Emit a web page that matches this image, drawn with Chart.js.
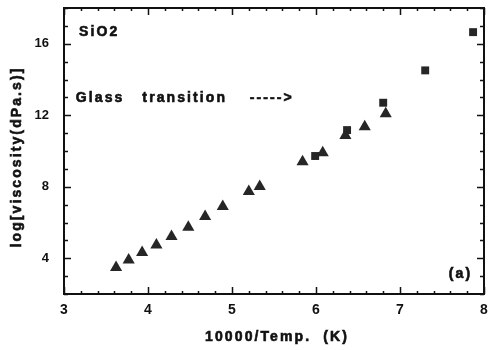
<!DOCTYPE html>
<html>
<head>
<meta charset="utf-8">
<script src="https://cdn.jsdelivr.net/npm/chart.js@4/dist/chart.umd.min.js"></script>
<style>
  html, body { margin: 0; padding: 0; background: #fff; }
</style>
</head>
<body>
<canvas id="myChart" width="491" height="350"></canvas>
<script>
// data
const triangleX = [3.62, 3.77, 3.93, 4.10, 4.28, 4.48, 4.68, 4.89, 5.20, 5.33, 5.84, 6.08, 6.35, 6.58, 6.83];
const triangleY = [3.48, 3.90, 4.32, 4.74, 5.21, 5.73, 6.33, 6.89, 7.74, 8.02, 9.40, 9.90, 10.87, 11.36, 12.08];
const squareX = [5.99, 6.37, 6.80, 7.30, 7.87];
const squareY = [9.72, 11.17, 12.70, 14.51, 16.65];

const xTickLabels = [3, 4, 5, 6, 7, 8];
const yTickLabels = [4, 8, 12, 16];
const xTitle = '10000/Temp.  (K)';
const yTitle = 'log[viscosity(dPa.s)]';
const notes = ['SiO2', 'Glass   transition', '----->', '(a)'];

const FONT = '"Liberation Sans", Arial, sans-serif';
const INK = '#111';
const MARK = '#262626';

function toPoints(xs, ys) {
  return xs.map((x, i) => ({ x: x, y: ys[i] }));
}

// heavier text, like the scanned original
function boldText(ctx, text, x, y) {
  ctx.fillText(text, x, y);
  ctx.strokeText(text, x, y);
}

// frame with inward ticks on all four sides, titles and notes
const framePlugin = {
  id: 'frame',
  afterDraw(chart) {
    const { ctx, chartArea: a, scales: { x, y } } = chart;
    ctx.save();
    ctx.strokeStyle = INK;
    ctx.lineWidth = 1.5;
    // x ticks (minor every 0.2)
    for (let v = 3; v <= 8.001; v += 0.2) {
      const px = Math.round(x.getPixelForValue(v)) + 0.5;
      const major = Math.abs(v - Math.round(v)) < 0.01;
      const len = major ? 7 : 3;
      ctx.beginPath();
      ctx.moveTo(px, a.bottom); ctx.lineTo(px, a.bottom - len);
      ctx.moveTo(px, a.top); ctx.lineTo(px, a.top + len);
      ctx.stroke();
    }
    // y ticks (minor every 1)
    for (let v = 2; v <= 18; v += 1) {
      const py = Math.round(y.getPixelForValue(v)) + 0.5;
      const major = v % 4 === 0;
      const len = major ? 7 : 4;
      ctx.beginPath();
      ctx.moveTo(a.left, py); ctx.lineTo(a.left + len, py);
      ctx.moveTo(a.right, py); ctx.lineTo(a.right - len, py);
      ctx.stroke();
    }
    ctx.lineWidth = 2;
    ctx.strokeRect(a.left, a.top, a.right - a.left, a.bottom - a.top);

    ctx.fillStyle = INK;
    ctx.lineWidth = 0.6;
    ctx.font = 'bold 14px ' + FONT;
    ctx.letterSpacing = '2.1px';
    ctx.textBaseline = 'middle';

    // axis titles
    ctx.textAlign = 'center';
    boldText(ctx, xTitle, (a.left + a.right) / 2 + 3, 337);
    ctx.save();
    ctx.translate(17, (a.top + a.bottom) / 2 + 6);
    ctx.rotate(-Math.PI / 2);
    boldText(ctx, yTitle, 0, 0);
    ctx.restore();

    // notes
    ctx.textAlign = 'left';
    boldText(ctx, notes[0], x.getPixelForValue(3.18), y.getPixelForValue(16.67));
    boldText(ctx, notes[1], x.getPixelForValue(3.14), y.getPixelForValue(12.98));
    boldText(ctx, notes[2], x.getPixelForValue(5.21), y.getPixelForValue(12.98));
    ctx.textAlign = 'right';
    boldText(ctx, notes[3], x.getPixelForValue(7.86), y.getPixelForValue(3.1));
    ctx.restore();
  }
};

const config = {
  type: 'scatter',
  data: {
    datasets: [
      {
        label: 'triangles',
        data: toPoints(triangleX, triangleY),
        pointStyle: 'triangle',
        pointRadius: 7,
        backgroundColor: MARK,
        borderColor: MARK,
        borderWidth: 0
      },
      {
        label: 'squares',
        data: toPoints(squareX, squareY),
        pointStyle: 'rect',
        pointRadius: 5.6,
        backgroundColor: MARK,
        borderColor: MARK,
        borderWidth: 0
      }
    ]
  },
  options: {
    responsive: false,
    animation: false,
    layout: { padding: { top: 8, right: 5, left: 0, bottom: 0 } },
    plugins: {
      legend: { display: false },
      tooltip: { enabled: false }
    },
    scales: {
      x: {
        type: 'linear',
        min: 3,
        max: 8,
        grid: { display: false, drawTicks: false },
        border: { display: false },
        afterBuildTicks: s => { s.ticks = xTickLabels.map(v => ({ value: v })); },
        afterFit: s => { s.height = 56; s.paddingLeft = 0; s.paddingRight = 0; },
        ticks: {
          padding: 8,
          color: INK,
          font: { family: FONT, size: 14, weight: 'bold' }
        }
      },
      y: {
        type: 'linear',
        min: 2,
        max: 18,
        grid: { display: false, drawTicks: false },
        border: { display: false },
        afterBuildTicks: s => { s.ticks = yTickLabels.map(v => ({ value: v })); },
        afterFit: s => { s.width = 64; s.paddingTop = 0; s.paddingBottom = 0; },
        ticks: {
          padding: 15,
          color: INK,
          font: { family: FONT, size: 13, weight: 'bold' }
        }
      }
    }
  },
  plugins: [framePlugin]
};

const myChart = new Chart(document.getElementById('myChart'), config);
</script>
</body>
</html>
